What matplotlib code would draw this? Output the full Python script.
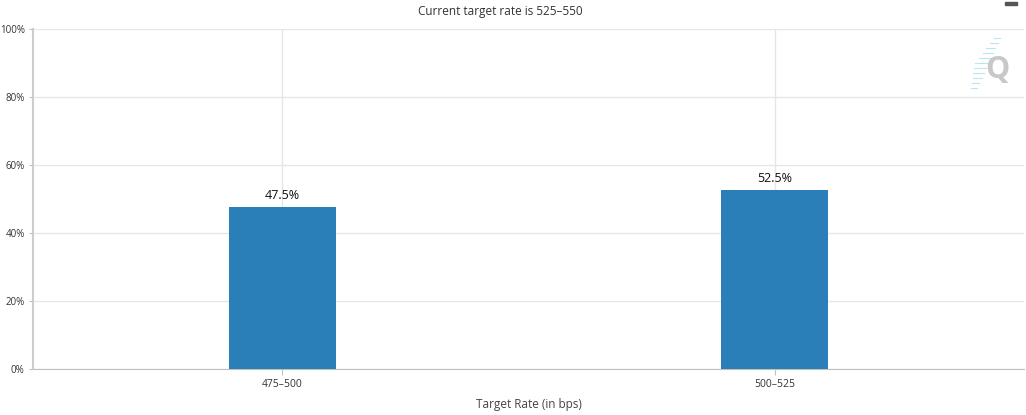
import matplotlib.pyplot as plt
import numpy as np

categories = ['475–500', '500–525']
probabilities = [47.5, 52.5]
y_ticks = [0, 20, 40, 60, 80, 100]

plt.rcParams['font.family'] = ['Open Sans', 'DejaVu Sans']

fig = plt.figure(figsize=(10.26, 4.15), dpi=100)
ax = fig.add_axes([33 / 1026, 1 - 369 / 415, (1024 - 33) / 1026, 340 / 415])

x = np.arange(len(categories))
bars = ax.bar(x, probabilities, width=0.2175, color='#2b7fb8', zorder=3)
for b, v in zip(bars, probabilities):
    ax.text(b.get_x() + b.get_width() / 2, v + 1.5, f'{v}%', ha='center', va='bottom',
            fontsize=9, color='#111111', zorder=4)

ax.set_xlim(-0.507, 1.507)
ax.set_ylim(0, 100)
ax.set_xticks(x)
ax.set_xticklabels(categories, fontsize=7.5, color='#333333')
ax.set_yticks(y_ticks)
ax.set_yticklabels([f'{t}%' for t in y_ticks], fontsize=7, color='#333333')
ax.grid(True, color='#e6e6e6', linewidth=1, zorder=0)
ax.tick_params(axis='both', length=4, color='#c0c0c0', pad=3)
ax.tick_params(axis='y', length=3)

for s in ['top', 'right']:
    ax.spines[s].set_visible(False)
ax.spines['left'].set_color('#cccccc')
ax.spines['left'].set_linewidth(1.5)
ax.spines['bottom'].set_color('#c0c0c0')

ax.set_xlabel('Target Rate (in bps)', fontsize=8.5, color='#444444', labelpad=6)
fig.text(500 / 1026, 1 - 12 / 415, 'Current target rate is 525–550', ha='center', va='center',
         fontsize=8.5, color='#333333')

# watermark
fig.text(997 / 1026, 1 - 70 / 415, 'Q', ha='center', va='center', fontsize=22,
         fontweight='bold', color='#c8c8c8')
for i in range(11):
    ypix = 38 + i * 5
    x_end = 1000 - i * 2.3
    x_start = x_end - 6 - min(i, 10 - i) * 1.5
    fig.add_artist(plt.Line2D([x_start / 1026, x_end / 1026], [1 - ypix / 415, 1 - ypix / 415],
                              color='#9fdbe6', linewidth=0.8, alpha=0.7))

# menu icon
fig.add_artist(plt.Rectangle((1005 / 1026, 1 - 5 / 415), 12 / 1026, 3 / 415, color='#555555'))

fig.savefig('out.png', dpi=100)
